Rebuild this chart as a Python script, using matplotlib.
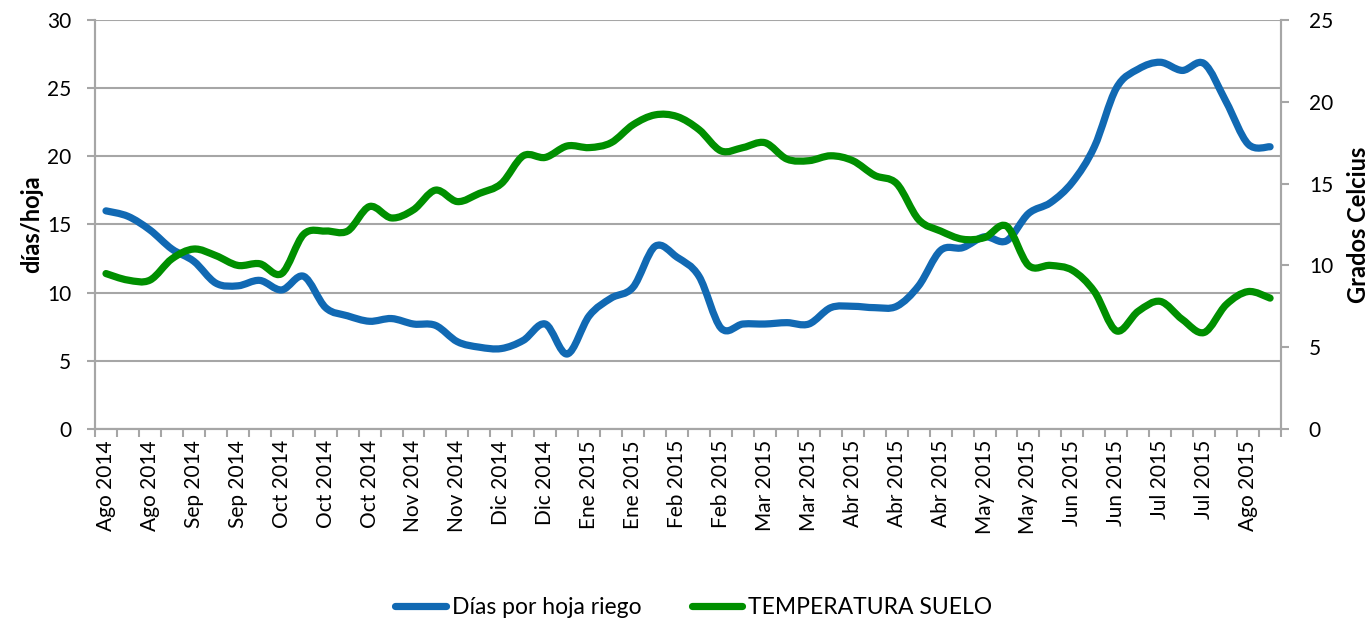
import numpy as np
import matplotlib
matplotlib.use("Agg")
import matplotlib.pyplot as plt
from matplotlib.path import Path
from matplotlib.patches import PathPatch
from matplotlib.lines import Line2D

plt.rcParams['font.family'] = ['Lato', 'DejaVu Sans']

tick_labels = ["Ago 2014", "Ago 2014", "Sep 2014", "Sep 2014", "Oct 2014", "Oct 2014",
               "Oct 2014", "Nov 2014", "Nov 2014", "Dic 2014", "Dic 2014", "Ene 2015",
               "Ene 2015", "Feb 2015", "Feb 2015", "Mar 2015", "Mar 2015", "Abr 2015",
               "Abr 2015", "Abr 2015", "May 2015", "May 2015", "Jun 2015", "Jun 2015",
               "Jul 2015", "Jul 2015", "Ago 2015"]

dias_hoja = [16.0, 15.6, 14.6, 13.2, 12.3, 10.7, 10.5, 10.9, 10.2, 11.2,
             8.9, 8.3, 7.9, 8.1, 7.7, 7.6, 6.4, 6.0, 5.9, 6.5,
             7.7, 5.5, 8.3, 9.6, 10.4, 13.4, 12.6, 11.2, 7.4, 7.7,
             7.7, 7.8, 7.7, 8.9, 9.0, 8.9, 9.0, 10.5, 13.1, 13.3,
             14.1, 13.8, 15.8, 16.6, 18.1, 20.7, 25.0, 26.4, 26.9, 26.3,
             26.8, 24.0, 20.9, 20.7]

temperatura = [9.5, 9.1, 9.1, 10.4, 11.0, 10.6, 10.0, 10.1, 9.5, 11.9,
               12.1, 12.1, 13.6, 12.9, 13.4, 14.6, 13.9, 14.4, 15.0, 16.7,
               16.6, 17.3, 17.2, 17.5, 18.6, 19.2, 19.1, 18.3, 17.0, 17.2,
               17.5, 16.5, 16.4, 16.7, 16.4, 15.5, 15.0, 12.8, 12.1, 11.6,
               11.7, 12.4, 10.0, 10.0, 9.7, 8.4, 6.0, 7.2, 7.8, 6.7,
               5.9, 7.6, 8.4, 8.0]

BLUE = '#1169b3'
GREEN = '#008f00'
GRID = '#a6a6a6'


def smooth_path(x, y):
    pts = np.column_stack([x, y]).astype(float)
    n = len(pts)
    verts = [pts[0]]
    codes = [Path.MOVETO]
    for i in range(n - 1):
        p0 = pts[i - 1] if i > 0 else pts[i]
        p1 = pts[i]
        p2 = pts[i + 1]
        p3 = pts[i + 2] if i + 2 < n else pts[i + 1]
        c1 = p1 + (p2 - p0) / 6.0
        c2 = p2 - (p3 - p1) / 6.0
        verts += [c1, c2, p2]
        codes += [Path.CURVE4] * 3
    return Path(verts, codes)


fig = plt.figure(figsize=(13.71, 6.21), dpi=100)
ax = fig.add_axes([0.0693, 0.3092, 0.8651, 0.6586])
ax2 = ax.twinx()

x = np.arange(len(dias_hoja))
ax.add_patch(PathPatch(smooth_path(x, dias_hoja), fill=False, edgecolor=BLUE,
                       lw=5.2, capstyle='round', joinstyle='round', zorder=3))
ax2.add_patch(PathPatch(smooth_path(x, temperatura), fill=False, edgecolor=GREEN,
                        lw=5.2, capstyle='round', joinstyle='round', zorder=3))

ax.set_xlim(-0.5, len(dias_hoja) - 0.5)
ax.set_ylim(0, 30)
ax2.set_ylim(0, 25)
ax.set_yticks(range(0, 31, 5))
ax2.set_yticks(range(0, 26, 5))

ax.set_xticks(np.arange(-0.5, len(dias_hoja) + 0.5, 1), minor=True)
ax.set_xticks(np.arange(0, len(dias_hoja), 2))
ax.set_xticklabels(tick_labels, rotation=90, fontsize=15)
ax.tick_params(axis='x', which='major', length=0, pad=8)
ax.tick_params(axis='x', which='minor', length=6, width=1.5, color=GRID, direction='out')
ax.tick_params(axis='y', length=6, width=1.5, color=GRID, labelsize=15, pad=11)
ax2.tick_params(axis='y', length=6, width=1.5, color=GRID, labelsize=15, pad=14)

ax.yaxis.grid(True, color=GRID, lw=1.5)
ax.set_axisbelow(True)
for a in (ax, ax2):
    a.spines['top'].set_visible(False)
    for s in ('left', 'right', 'bottom'):
        a.spines[s].set_color(GRID)
        a.spines[s].set_linewidth(1.5)

ax.set_ylabel('días/hoja', fontsize=17, fontweight='bold', labelpad=3)
ax2.set_ylabel('Grados Celcius', fontsize=17, fontweight='bold', labelpad=10)

handles = [Line2D([], [], color=BLUE, lw=5.2, solid_capstyle='round'),
           Line2D([], [], color=GREEN, lw=5.2, solid_capstyle='round')]
fig.legend(handles, ['Días por hoja riego', 'TEMPERATURA SUELO'], loc='center',
           bbox_to_anchor=(0.506, 0.021), ncol=2, frameon=False, fontsize=16.5,
           handlelength=2.2, handletextpad=0.25, columnspacing=2.2)

fig.savefig('out.png', dpi=100)
